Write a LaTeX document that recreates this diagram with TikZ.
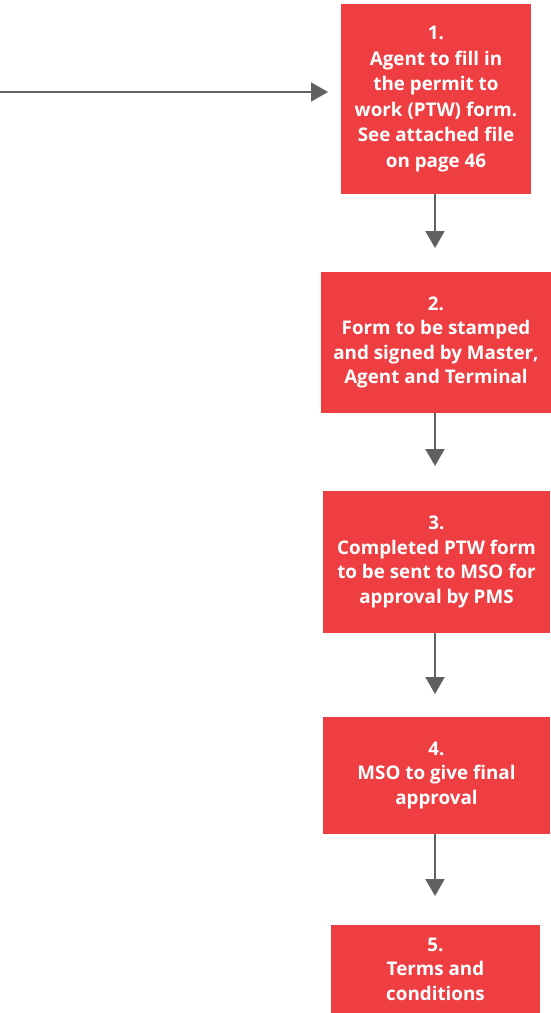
\documentclass[tikz,border=0pt]{standalone}
\usepackage{fontspec}
\setmainfont{Open Sans}
\usetikzlibrary{arrows.meta}
\definecolor{stepred}{HTML}{EF3E42}
\definecolor{flowgray}{HTML}{5F6062}
\begin{document}
\begin{tikzpicture}[x=1pt,y=1pt,
  stepbox/.style={fill=stepred, draw=none, text=white, align=center,
    font=\bfseries\fontsize{18.8}{24.4}\selectfont, inner sep=0pt},
  flow/.style={draw=flowgray, line width=2pt,
    -{Triangle[length=17pt,width=19pt]}}]
\useasboundingbox (0,0) rectangle (551,-1013);
\node[stepbox, minimum width=190pt, minimum height=190pt,
  font=\bfseries\fontsize{18.8}{25.5}\selectfont] (s1) at (436,-99)
  {1.\\Agent to fill in\\the permit to\\work (PTW) form.\\See attached file\\on page 46};
\node[stepbox, minimum width=230pt, minimum height=141pt] (s2) at (436,-342.5)
  {2.\\Form to be stamped\\and signed by Master,\\Agent and Terminal};
\node[stepbox, minimum width=227pt, minimum height=142pt] (s3) at (436.5,-562)
  {3.\\Completed PTW form\\to be sent to MSO for\\approval by PMS};
\node[stepbox, minimum width=227pt, minimum height=117pt] (s4) at (436.5,-775.5)
  {4.\\MSO to give final\\approval};
\node[stepbox, minimum width=209pt, minimum height=88pt] (s5) at (435.5,-969)
  {5.\\Terms and\\conditions};
% incoming flow from the left edge
\coordinate (in) at (0,-92);
\coordinate (e1) at (328,-92);
\draw[flow] (in) -- (e1);
% arrows between steps stop short of the next box
\coordinate (e2) at (435,-248);
\coordinate (e3) at (435,-466);
\coordinate (e4) at (435,-694);
\coordinate (e5) at (435,-896);
\draw[flow] (s1.south -| e2) -- (e2);
\draw[flow] (s2.south -| e3) -- (e3);
\draw[flow] (s3.south -| e4) -- (e4);
\draw[flow] (s4.south -| e5) -- (e5);
\end{tikzpicture}
\end{document}
